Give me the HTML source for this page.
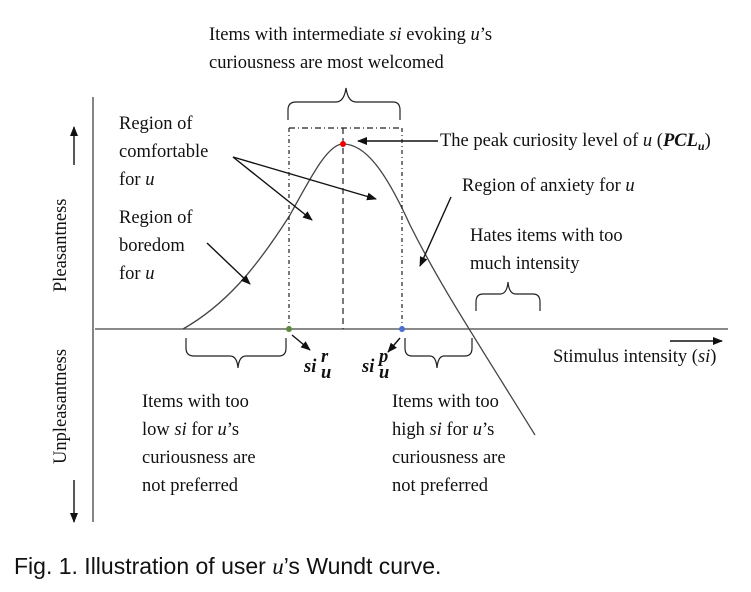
<!DOCTYPE html>
<html><head><style>
body{margin:0;background:#fff}
svg{display:block}
text{font-family:"Liberation Serif",serif;font-size:18.5px;fill:#111}
.c{font-family:"Liberation Sans",sans-serif;font-size:23px}
</style></head><body>
<svg width="751" height="592" viewBox="0 0 751 592">
<defs><marker id="a" markerWidth="10" markerHeight="8" refX="9" refY="4" orient="auto" markerUnits="userSpaceOnUse"><path d="M0,0 L10,4 L0,8z" fill="#111"/></marker></defs>
<g stroke="#444" fill="none" stroke-width="1.3">
<line x1="93" y1="97" x2="93" y2="522"/>
<line x1="95" y1="329" x2="728" y2="329"/>
<path d="M183,329 C225,305 255,270 290,215 C312,175 328,144 343,144 C365,144 385,170 410,225 C440,285 470,330 535,435"/>
</g>
<g stroke="#111" fill="none" stroke-width="1.4">
<line x1="74" y1="165" x2="74" y2="127" marker-end="url(#a)"/>
<line x1="74" y1="480" x2="74" y2="522" marker-end="url(#a)"/>
<line x1="670" y1="341" x2="722" y2="341" marker-end="url(#a)"/>
<line x1="233" y1="157" x2="312" y2="220" marker-end="url(#a)"/>
<line x1="233" y1="157" x2="376" y2="199" marker-end="url(#a)"/>
<line x1="207" y1="243" x2="250" y2="284" marker-end="url(#a)"/>
<line x1="451" y1="197" x2="420" y2="266" marker-end="url(#a)"/>
<line x1="438" y1="141" x2="358" y2="141" marker-end="url(#a)"/>
<line x1="292" y1="335" x2="310" y2="350" marker-end="url(#a)"/>
<line x1="400" y1="338" x2="388" y2="352" marker-end="url(#a)"/>
</g>
<g stroke="#222" fill="none" stroke-width="1.2">
<line x1="289" y1="128" x2="402" y2="128" stroke-dasharray="6,3,1,3"/>
<line x1="289" y1="128" x2="289" y2="329" stroke-dasharray="4,3,1,3"/>
<line x1="402" y1="128" x2="402" y2="329" stroke-dasharray="4,3,1,3"/>
<line x1="343" y1="128" x2="343" y2="329" stroke-dasharray="6,4"/>
<path d="M288,120 V110 Q288,102 296,102 H336 Q344,102 346,88 Q348,102 356,102 H393 Q400,102 400,110 V120"/>
<path d="M186,338 V348 Q186,356 194,356 H230 Q237,356 238,368 Q239,356 246,356 H279 Q286,356 286,348 V338"/>
<path d="M405,338 V348 Q405,356 412,356 H430 Q436,356 437,368 Q438,356 444,356 H465 Q472,356 472,348 V338"/>
<path d="M476,311 V302 Q476,294 483,294 H500 Q507,294 508,282 Q509,294 516,294 H533 Q540,294 540,302 V311"/>
</g>
<circle cx="343" cy="144" r="3" fill="#e00"/>
<circle cx="289" cy="329" r="3" fill="#5a8a3a"/>
<circle cx="402" cy="329" r="3" fill="#4a6fd0"/>
<text x="209" y="40">Items with intermediate <tspan font-style="italic">si</tspan> evoking <tspan font-style="italic">u</tspan>’s</text>
<text x="209" y="68">curiousness are most welcomed</text>
<text x="119" y="129">Region of</text>
<text x="119" y="157">comfortable</text>
<text x="119" y="185">for <tspan font-style="italic">u</tspan></text>
<text x="119" y="223">Region of</text>
<text x="119" y="251">boredom</text>
<text x="119" y="279">for <tspan font-style="italic">u</tspan></text>
<text x="440" y="146">The peak curiosity level of <tspan font-style="italic">u</tspan>  (<tspan font-weight="bold" font-style="italic">PCL</tspan><tspan font-weight="bold" font-style="italic" font-size="12" dy="4">u</tspan><tspan dy="-4">)</tspan></text>
<text x="462" y="191">Region of anxiety for <tspan font-style="italic">u</tspan></text>
<text x="470" y="241">Hates items with too</text>
<text x="470" y="269">much intensity</text>
<text x="553" y="362">Stimulus intensity (<tspan font-style="italic">si</tspan>)</text>
<text x="304" y="372" font-weight="bold" font-style="italic" font-size="19">si</text>
<text x="321" y="362" font-weight="bold" font-style="italic" font-size="12">r</text>
<text x="321" y="378" font-weight="bold" font-style="italic" font-size="12">u</text>
<text x="362" y="372" font-weight="bold" font-style="italic" font-size="19">si</text>
<text x="379" y="362" font-weight="bold" font-style="italic" font-size="12">p</text>
<text x="379" y="378" font-weight="bold" font-style="italic" font-size="12">u</text>
<text x="142" y="407">Items with too</text>
<text x="142" y="435">low <tspan font-style="italic">si</tspan> for <tspan font-style="italic">u</tspan>’s</text>
<text x="142" y="463">curiousness are</text>
<text x="142" y="491">not preferred</text>
<text x="392" y="407">Items with too</text>
<text x="392" y="435">high <tspan font-style="italic">si</tspan> for <tspan font-style="italic">u</tspan>’s</text>
<text x="392" y="463">curiousness are</text>
<text x="392" y="491">not preferred</text>
<text transform="translate(66,292) rotate(-90)">Pleasantness</text>
<text transform="translate(66,464) rotate(-90)">Unpleasantness</text>
<text class="c" x="14" y="574">Fig. 1. Illustration of user <tspan font-family="Liberation Serif" font-style="italic">u</tspan>’s Wundt curve.</text>
</svg>
</body></html>
